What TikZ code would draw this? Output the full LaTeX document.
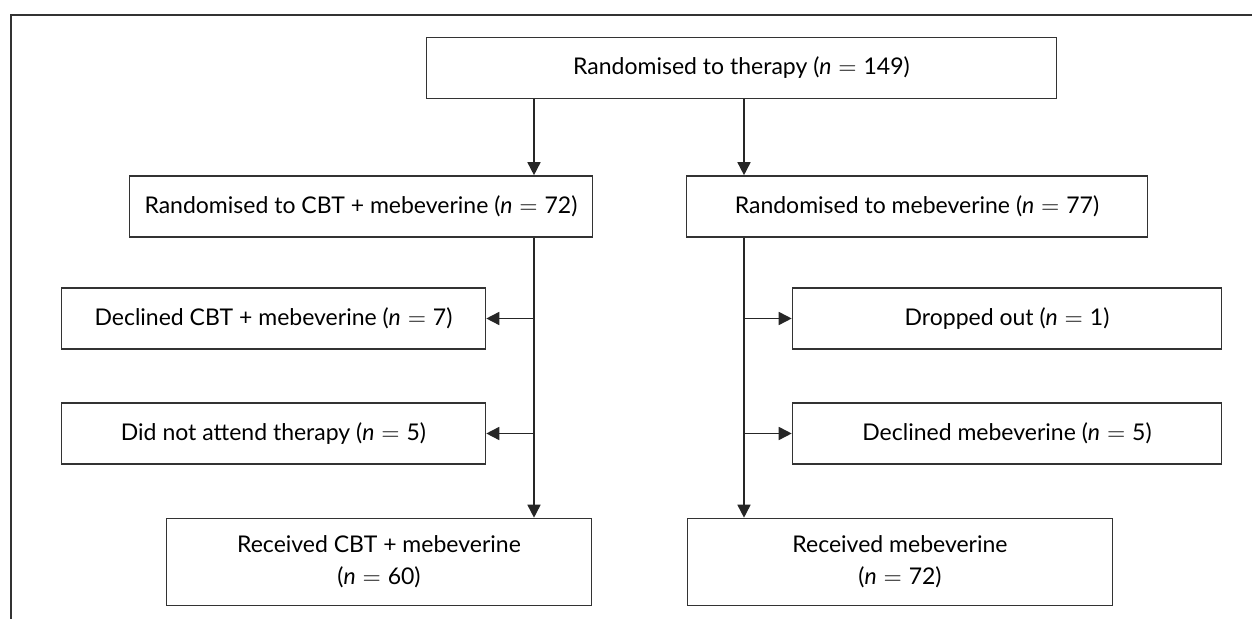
\documentclass[tikz,border=0pt]{standalone}
\usepackage{fontspec}
\setmainfont{Lato}
\usetikzlibrary{arrows.meta}
\newcommand{\nis}{\hspace{0.3em}$=$\hspace{0.3em}}
\begin{document}
\begin{tikzpicture}[x=0.5pt,y=-0.5pt,
    box/.style={draw=black!80,line width=0.8pt,inner sep=0pt,align=center,
      minimum height=30.5pt,font=\fontsize{11.5}{16}\selectfont},
    arr/.style={draw=black!85,line width=0.8pt,-{Triangle[length=6.5pt,width=6.5pt]}}]
    \useasboundingbox (0,0) rectangle (1252,619);
    % outer frame (top and left only)
    \draw [black!80,line width=1.2pt] (1252,15)--(11,15)--(11,619);
    % boxes
    \node [box,minimum width=315pt] (rand) at (741.5,68) {Randomised to therapy (\textit{n}\nis149)};
    \node [box,minimum width=231.5pt] (cbt) at (361,206.5) {Randomised to CBT + mebeverine (\textit{n}\nis72)};
    \node [box,minimum width=230.5pt] (meb) at (917,206.5) {Randomised to mebeverine (\textit{n}\nis77)};
    \node [box,minimum width=212pt] (declcbt) at (273.5,318.5) {Declined CBT + mebeverine (\textit{n}\nis7)};
    \node [box,minimum width=212pt] (noshow) at (273.5,433.5) {Did not attend therapy (\textit{n}\nis5)};
    \node [box,minimum width=214.5pt] (drop) at (1007,318.5) {Dropped out (\textit{n}\nis1)};
    \node [box,minimum width=214.5pt] (declmeb) at (1007,433.5) {Declined mebeverine (\textit{n}\nis5)};
    \node [box,minimum width=212.5pt,minimum height=43.5pt] (gotcbt) at (379,562) {Received CBT + mebeverine\\(\textit{n}\nis60)};
    \node [box,minimum width=212.5pt,minimum height=43.5pt] (gotmeb) at (900,562) {Received mebeverine\\(\textit{n}\nis72)};
    % trunk lines
    \coordinate (lx) at (534,0);
    \coordinate (rx) at (744,0);
    \draw [arr] (rand.south -| lx)--(cbt.north -| lx);
    \draw [arr] (rand.south -| rx)--(meb.north -| rx);
    \draw [arr] (cbt.south -| lx)--(gotcbt.north -| lx);
    \draw [arr] (meb.south -| rx)--(gotmeb.north -| rx);
    % side branches
    \draw [arr] (declcbt.east -| lx)--(declcbt.east);
    \draw [arr] (noshow.east -| lx)--(noshow.east);
    \draw [arr] (drop.west -| rx)--(drop.west);
    \draw [arr] (declmeb.west -| rx)--(declmeb.west);
\end{tikzpicture}
\end{document}
